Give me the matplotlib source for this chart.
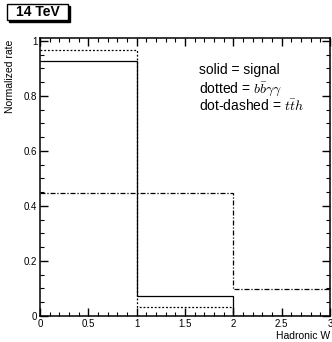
import matplotlib.pyplot as plt
from matplotlib.ticker import MultipleLocator, FormatStrFormatter
from matplotlib.patches import Rectangle

# bin edges in hadronic W multiplicity
edges = [0, 1, 2, 3]
signal = [0.925, 0.073, 0.0]
bbaa = [0.967, 0.032, 0.0]
tth = [0.448, 0.448, 0.098]

plt.rcParams['font.family'] = ['Liberation Sans', 'DejaVu Sans']
plt.rcParams['mathtext.fontset'] = 'cm'

fig = plt.figure(figsize=(3.32, 3.42), dpi=100)
ax = fig.add_axes([40/332, 1-316/342, 290/332, 278/342])

ax.stairs(signal, edges, baseline=None, color='black', lw=0.9, ls='-')
ax.stairs(bbaa, edges, baseline=None, color='black', lw=0.9, ls=(0, (1.5, 1.5)))
ax.stairs(tth, edges, baseline=None, color='black', lw=0.9, ls=(0, (4, 1.5, 1, 1.5)))

ax.set_xlim(0, 3)
ax.set_ylim(0, 1.01)
ax.xaxis.set_major_locator(MultipleLocator(0.5))
ax.xaxis.set_minor_locator(MultipleLocator(0.1))
ax.yaxis.set_major_locator(MultipleLocator(0.2))
ax.yaxis.set_minor_locator(MultipleLocator(0.05))
ax.xaxis.set_major_formatter(FormatStrFormatter('%g'))
ax.yaxis.set_major_formatter(FormatStrFormatter('%g'))
ax.tick_params(which='both', direction='in', top=True, right=True, labelsize=7, pad=2)
ax.tick_params(which='major', length=6, width=1)
ax.tick_params(which='minor', length=3, width=0.8)
for s in ax.spines.values():
    s.set_linewidth(1.1)

ax.text(0.548, 0.87, 'solid = signal', transform=ax.transAxes, fontsize=10)
ax.text(0.548, 0.804, r'dotted = $b\bar{b}\gamma\gamma$', transform=ax.transAxes, fontsize=10)
ax.text(0.548, 0.738, r'dot-dashed = $t\bar{t}h$', transform=ax.transAxes, fontsize=10)

fig.text(0.03, 1-40/342, 'Normalized rate', rotation=90, va='top', ha='center', fontsize=7.5)
fig.text(330/332, 1-336/342, 'Hadronic W', ha='right', va='center', fontsize=7.5)

# 14 TeV box with shadow
fig.patches.append(Rectangle((8.5/332, 1-21.5/342), 61/332, 16/342, transform=fig.transFigure,
                             facecolor='black', edgecolor='black'))
fig.patches.append(Rectangle((7/332, 1-20/342), 61/332, 16/342, transform=fig.transFigure,
                             facecolor='white', edgecolor='black', lw=1))
fig.text(37.5/332, 1-12/342, '14 TeV', ha='center', va='center', fontsize=10, fontweight='bold')

fig.savefig('out.png', dpi=100)
